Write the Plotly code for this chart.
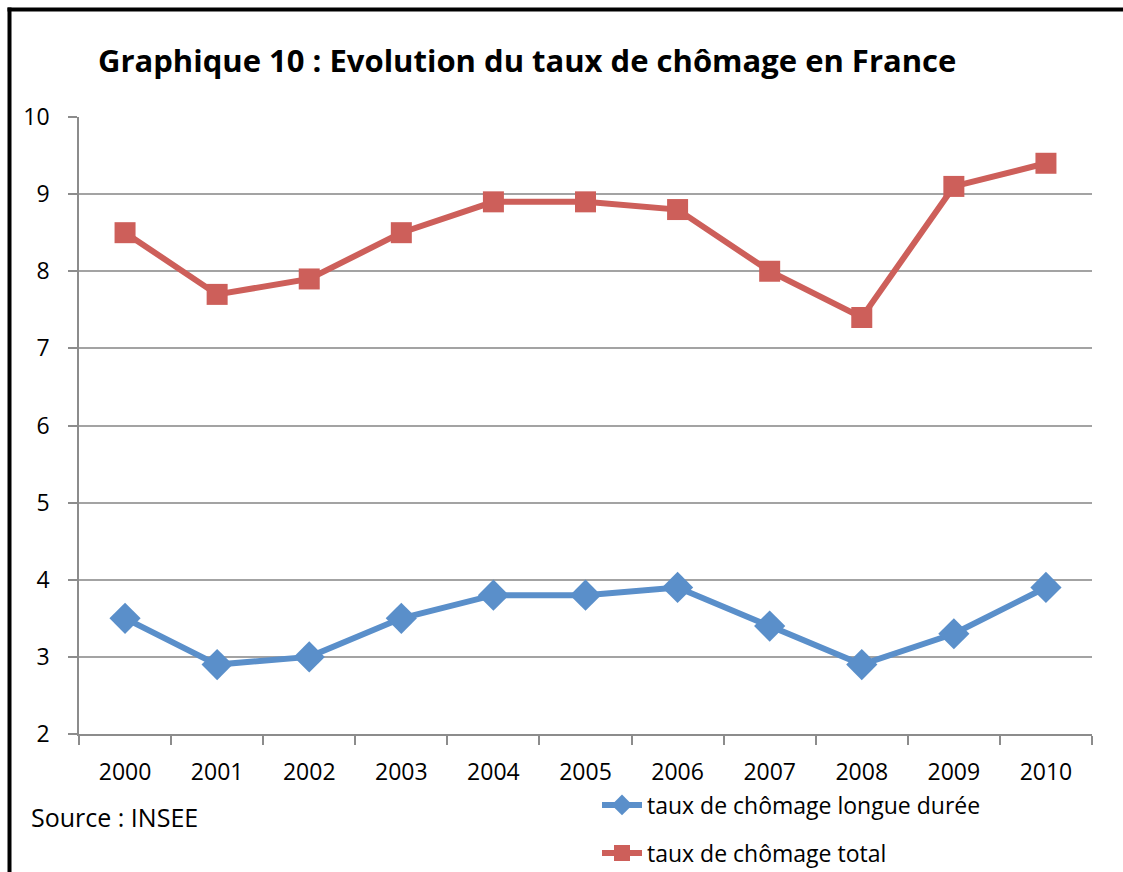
import plotly.graph_objects as go

years = ["2000", "2001", "2002", "2003", "2004", "2005", "2006", "2007", "2008", "2009", "2010"]
taux_longue = [3.5, 2.9, 3.0, 3.5, 3.8, 3.8, 3.9, 3.4, 2.9, 3.3, 3.9]
taux_total = [8.5, 7.7, 7.9, 8.5, 8.9, 8.9, 8.8, 8.0, 7.4, 9.1, 9.4]
y_ticks = [2, 3, 4, 5, 6, 7, 8, 9, 10]

W, H = 1123, 872
L, R, T, B = 79, 31, 117, 138
pw, ph = W - L - R, H - T - B

def px(x):
    return (x - L) / pw

def py(y):
    return 1 - (y - T) / ph

def cx(x):
    return x / W

def cy(y):
    return 1 - y / H

FONT = "Open Sans, Liberation Sans, sans-serif"
BLUE = "#5A8FCA"
RED = "#CD5F5A"

fig = go.Figure()
fig.add_trace(go.Scatter(
    x=years, y=taux_longue, mode="lines+markers",
    name="taux de chômage longue durée",
    line=dict(color=BLUE, width=6),
    marker=dict(symbol="diamond", size=24, color=BLUE),
    legend="legend",
))
fig.add_trace(go.Scatter(
    x=years, y=taux_total, mode="lines+markers",
    name="taux de chômage total",
    line=dict(color=RED, width=6),
    marker=dict(symbol="square", size=21, color=RED),
    legend="legend2",
))

fig.update_layout(
    width=W, height=H,
    margin=dict(l=L, r=R, t=T, b=B, autoexpand=False),
    paper_bgcolor="white", plot_bgcolor="white",
    font=dict(family=FONT, size=23, color="black"),
    showlegend=True,
    legend=dict(xref="container", yref="container", x=cx(597), y=cy(805),
                xanchor="left", yanchor="middle",
                font=dict(size=23, family=FONT), bgcolor="rgba(0,0,0,0)",
                itemwidth=40),
    legend2=dict(xref="container", yref="container", x=cx(597), y=cy(853),
                 xanchor="left", yanchor="middle",
                 font=dict(size=23, family=FONT), bgcolor="rgba(0,0,0,0)",
                 itemwidth=40),
    xaxis=dict(
        type="category", showgrid=False, showline=True, linecolor="#8c8c8c",
        linewidth=1.5, ticks="outside", tickson="boundaries", ticklen=9,
        tickcolor="#8c8c8c", tickwidth=1.5, range=[-0.5, 10.5],
        tickfont=dict(size=23, family=FONT), ticklabelstandoff=17,
        automargin=False,
    ),
    yaxis=dict(
        range=[2, 10], tickvals=y_ticks, showgrid=True, gridcolor="#a3a3a3",
        gridwidth=1.5, showline=True, linecolor="#8c8c8c", linewidth=1.5,
        ticks="outside", ticklen=9, tickcolor="#8c8c8c", tickwidth=1.5,
        tickfont=dict(size=23, family=FONT), zeroline=False, ticklabelstandoff=14,
        automargin=False,
    ),
    annotations=[
        dict(text="<b>Graphique 10 : Evolution du taux de chômage en France</b>",
             xref="paper", yref="paper", x=px(96), y=py(60), xanchor="left",
             yanchor="middle", showarrow=False,
             font=dict(size=31, family=FONT, color="black")),
        dict(text="Source : INSEE", xref="paper", yref="paper", x=px(29), y=py(817),
             xanchor="left", yanchor="middle", showarrow=False,
             font=dict(size=25, family=FONT, color="black")),
    ],
    shapes=[
        dict(type="line", xref="paper", yref="paper", x0=px(7.5), x1=px(1123),
             y0=py(9.5), y1=py(9.5), line=dict(color="black", width=4)),
        dict(type="line", xref="paper", yref="paper", x0=px(9.5), x1=px(9.5),
             y0=py(7.5), y1=py(872), line=dict(color="black", width=4)),
    ],
)

fig.write_html("out.html", config={"displayModeBar": False},
               post_script="document.body.style.margin='0';document.body.style.overflow='hidden';")
